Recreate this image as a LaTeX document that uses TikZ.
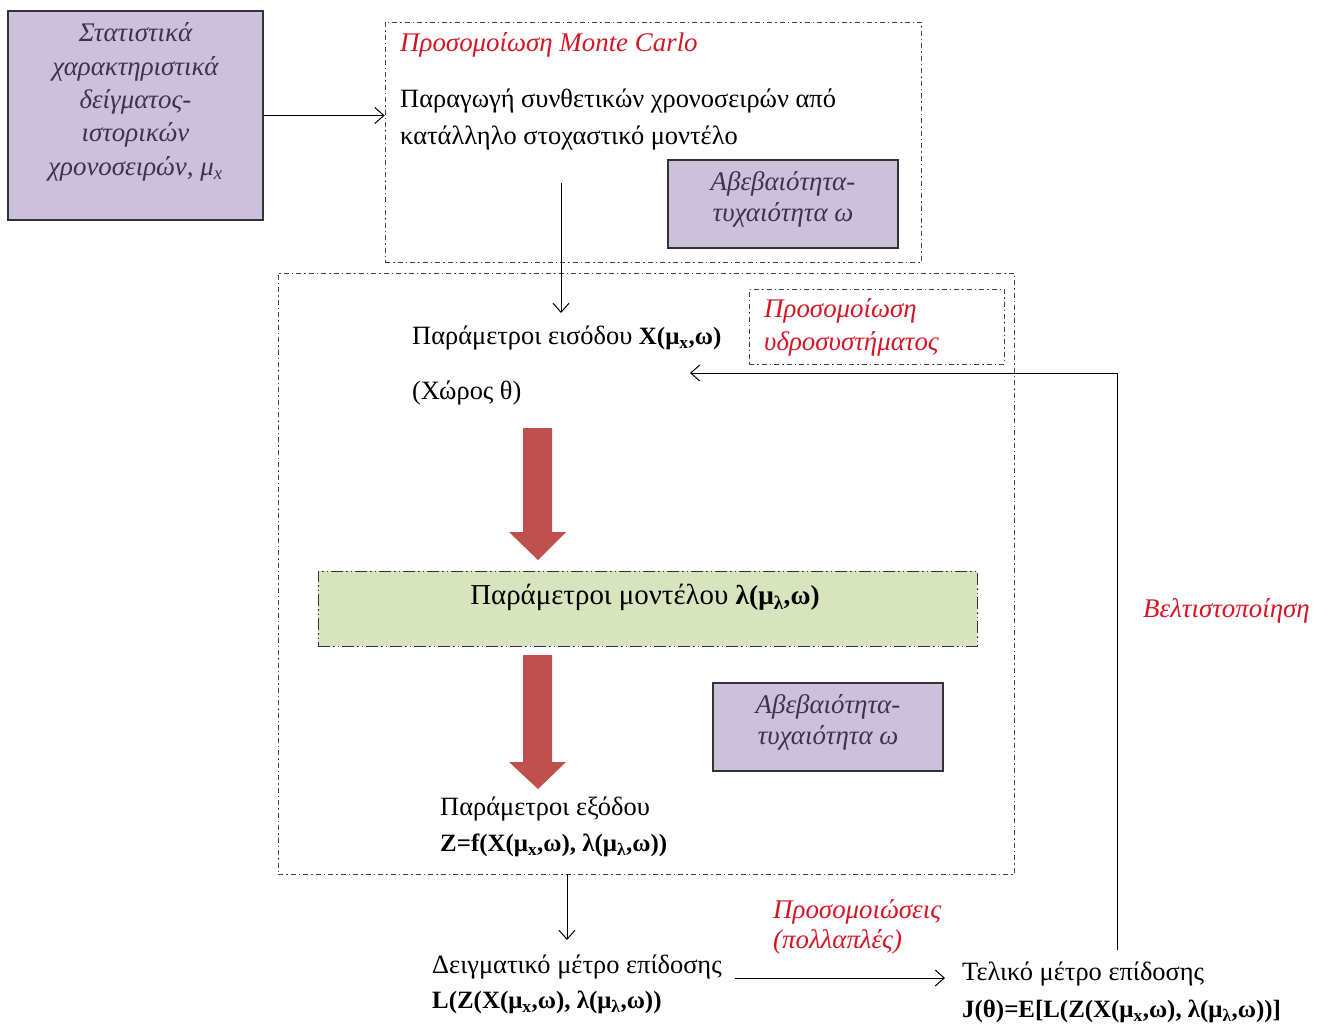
\documentclass[tikz,border=0pt]{standalone}
\usepackage{fontspec}
\setmainfont{Liberation Serif}
\usetikzlibrary{arrows.meta}
\definecolor{lav}{RGB}{204,193,218}
\definecolor{lavtext}{RGB}{64,49,82}
\definecolor{redtxt}{RGB}{214,22,38}
\definecolor{redarr}{RGB}{192,80,77}
\definecolor{greenfill}{RGB}{215,228,189}
\newcommand\fml[1]{{\fontsize{25}{30}\selectfont\bfseries #1}}
\newcommand\fmlbig[1]{{\fontsize{27.5}{30}\selectfont\bfseries #1}}
\tikzset{
  lavbox/.style={draw=black!80, line width=1.2bp, fill=lav, inner sep=0pt},
  lavtxt/.style={text=lavtext, align=center, inner sep=0pt, font=\itshape\fontsize{27}{33.5}\selectfont},
  ddbox/.style={draw=black!75, line width=0.9bp, dash pattern=on 5bp off 3bp on 1.5bp off 3bp, inner sep=0pt},
  ddgreen/.style={draw=black!80, line width=0.9bp, fill=greenfill, dash pattern=on 12bp off 3bp on 1.5bp off 3bp on 1.5bp off 3bp, inner sep=0pt},
  body/.style={font=\fontsize{26.5}{37}\selectfont, inner sep=0pt, anchor=mid west, yshift=-5bp},
  redit/.style={font=\itshape\fontsize{27}{33}\selectfont, text=redtxt, inner sep=0pt, align=left},
  conn/.style={-{Straight Barb[length=9bp,width=16bp]}, line width=1bp},
  blockarrow/.style={fill=redarr, draw=none}
}
\begin{document}
\begin{tikzpicture}[x=1bp,y=-1bp]
\useasboundingbox (0,0) rectangle (1335,1025);

% top-left statistics box
\node[lavbox, minimum width=255bp, minimum height=209bp] (stat) at (135.5,115.5) {};
\node[lavtxt] (stattxt) at (135.5,102)
  {Στατιστικά\\χαρακτηριστικά\\δείγματος-\\ιστορικών\\χρονοσειρών, μ\textsubscript{x}};

% Monte Carlo container
\node[ddbox, minimum width=536bp, minimum height=240bp] (mc) at (653,142) {};
\node[redit, anchor=mid west, yshift=-5bp] (mctitle) at (400,44) {Προσομοίωση Monte Carlo};
\node[body] (gen1) at (400,100) {Παραγωγή συνθετικών χρονοσειρών από};
\node[body] (gen2) at (400,137) {κατάλληλο στοχαστικό μοντέλο};
\node[lavbox, minimum width=230bp, minimum height=88bp] (unc1) at (783,204) {};
\node[lavtxt, font=\itshape\fontsize{27}{31}\selectfont] (unc1txt) at (783,199) {Αβεβαιότητα-\\τυχαιότητα ω};

% hydrosystem simulation container
\node[ddbox, minimum width=736bp, minimum height=601bp] (sim) at (646,573.5) {};
\node[ddbox, minimum width=255bp, minimum height=75bp] (hsbox) at (876.5,326.5) {};
\node[redit, anchor=west, yshift=-2bp] (hstxt) at (764,325.5) {Προσομοίωση\\υδροσυστήματος};

\node[body] (in) at (412,337) {Παράμετροι εισόδου \fml{X(μ\textsubscript{x},ω)}};
\node[body] (space) at (412,392) {(Χώρος θ)};

% red block arrows
\fill[blockarrow] (523,428) -- (552,428) -- (552,532) -- (566,532) -- (538,560) -- (509,532) -- (523,532) -- cycle;
\fill[blockarrow] (523,655) -- (552,655) -- (552,762) -- (566,762) -- (538,789) -- (509,762) -- (523,762) -- cycle;

% model parameters
\node[ddgreen, minimum width=659bp, minimum height=75bp] (model) at (647.5,608.5) {};
\node[font=\fontsize{29}{30}\selectfont, inner sep=0pt, yshift=-2bp] (modeltxt) at (645,595) {Παράμετροι μοντέλου \fmlbig{λ(μ\textsubscript{λ},ω)}};

\node[lavbox, minimum width=230bp, minimum height=88bp] (unc2) at (828,727) {};
\node[lavtxt, font=\itshape\fontsize{27}{31}\selectfont] (unc2txt) at (828,722) {Αβεβαιότητα-\\τυχαιότητα ω};

\node[body] (out1) at (440,808) {Παράμετροι εξόδου};
\node[body] (out2) at (440,844) {\fml{Z=f(X(μ\textsubscript{x},ω), λ(μ\textsubscript{λ},ω))}};

% sample performance
\node[body] (samp1) at (432,966) {Δειγματικό μέτρο επίδοσης};
\node[body] (samp2) at (432,1001) {\fml{L(Z(X(μ\textsubscript{x},ω), λ(μ\textsubscript{λ},ω))}};

\node[redit, anchor=west, yshift=-2bp, font=\itshape\fontsize{27}{30}\selectfont] (multi) at (773,925) {Προσομοιώσεις\\(πολλαπλές)};

\node[body] (fin1) at (962,973) {Τελικό μέτρο επίδοσης};
\node[body] (fin2) at (962,1010) {\fml{J(θ)=E[L(Z(X(μ\textsubscript{x},ω), λ(μ\textsubscript{λ},ω))]}};

\node[redit, anchor=mid west, yshift=-5bp] (opt) at (1143,610) {Βελτιστοποίηση};

% connectors
\draw[conn] (stat.east) -- (stat.east -| mc.west);
\coordinate (mcdown) at (561,183);
\draw[conn] (mcdown) -- (561,313);
\coordinate (sampin) at (567,940);
\draw[conn] (sim.south -| sampin) -- (sampin);
\coordinate (sampout) at (735,978);
\coordinate (finin) at (945,978);
\draw[conn] (sampout) -- (finin);
\coordinate (fbstart) at (1117,950);
\coordinate (fbturn) at (1117,373);
\coordinate (fbend) at (690,373);
\draw[conn] (fbstart) -- (fbturn) -- (fbend);
\end{tikzpicture}
\end{document}
